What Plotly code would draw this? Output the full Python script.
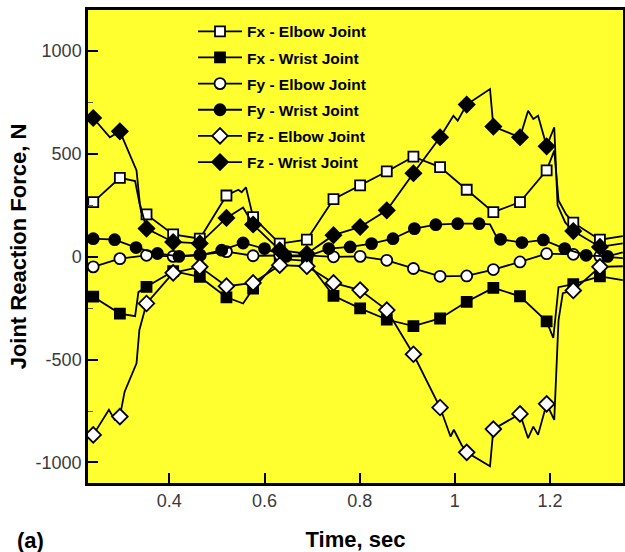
import plotly.graph_objects as go

# ---------------- data ----------------
# marker times for the 26.7-px-spaced series
t_mark = [0.240, 0.296, 0.352, 0.408, 0.464, 0.520, 0.576, 0.632, 0.689, 0.745,
          0.801, 0.857, 0.913, 0.969, 1.025, 1.081, 1.137, 1.193, 1.249, 1.305]
# marker times for Fy - Wrist Joint
t_mark_fyw = [0.240, 0.285, 0.330, 0.375, 0.420, 0.465, 0.510, 0.555, 0.600, 0.645,
              0.690, 0.735, 0.780, 0.825, 0.870, 0.915, 0.960, 1.006, 1.051, 1.096,
              1.141, 1.186, 1.231, 1.276, 1.321]

fx_elbow = [266, 384, 206, 109, 88, 298, 193, 64, 83, 280,
            347, 415, 487, 436, 326, 217, 266, 420, 166, 83]
fx_wrist = [-194, -276, -146, -70, -98, -197, -155, -10, -20, -190,
            -251, -305, -337, -300, -219, -151, -192, -314, -133, -95]
fy_elbow = [-49, -9, 7, 2, 10, 25, 5, 7, 7, 0,
            2, -17, -57, -95, -93, -62, -25, 15, 12, 2]
fy_wrist = [88, 83, 45, 16, 2, 7, 32, 67, 40, 2,
            2, 40, 48, 64, 88, 137, 156, 161, 161, 85,
            69, 82, 40, 7, 2]
fz_elbow = [-866, -777, -227, -78, -49, -143, -127, -41, -46, -127,
            -162, -259, -474, -733, -951, -838, -764, -715, -164, -49]
fz_wrist = [675, 610, 137, 72, 65, 189, 157, 32, 15, 105,
            145, 226, 406, 581, 740, 633, 581, 537, 125, 48]

# intermediate (unmarked) samples of each curve
fx_elbow_ex_t = [0.328, 0.341, 0.545, 0.552, 0.561, 1.209, 1.218, 1.234, 1.353]
fx_elbow_ex_v = [368, 216, 326, 314, 338, 516, 274, 206, 100]
fx_wrist_ex_t = [0.328, 0.335, 0.555, 1.207, 1.218, 1.353]
fx_wrist_ex_v = [-289, -172, -227, -395, -148, -114]
fy_elbow_ex_t = [1.353]
fy_elbow_ex_v = [-7]
fy_wrist_ex_t = [1.074, 1.087, 1.353]
fy_wrist_ex_v = [158, 99, 22]
fz_elbow_ex_t = [0.273, 0.285, 0.306, 0.331, 0.337, 0.991, 0.998, 1.014, 1.074,
                 1.116, 1.154, 1.165, 1.175, 1.209, 1.218, 1.227, 1.353]
fz_elbow_ex_v = [-744, -793, -656, -518, -356, -874, -841, -914, -1019,
                 -793, -882, -826, -866, -793, -308, -177, -46]
fz_wrist_ex_t = [0.275, 0.310, 0.321, 0.331, 0.338, 0.555, 0.997, 1.006, 1.074,
                 1.154, 1.165, 1.175, 1.209, 1.216, 1.232, 1.353]
fz_wrist_ex_v = [581, 532, 468, 420, 258, 240, 686, 662, 816,
                 710, 670, 686, 630, 250, 167, 65]

series_names = ["Fx - Elbow Joint", "Fx - Wrist Joint", "Fy - Elbow Joint",
                "Fy - Wrist Joint", "Fz - Elbow Joint", "Fz - Wrist Joint"]

y_tick_vals = [-1000, -500, 0, 500, 1000]
y_tick_text = ["-1000", "-500", "0", "500", "1000"]
x_tick_vals = [0.4, 0.6, 0.8, 1.0, 1.2]
x_tick_text = ["0.4", "0.6", "0.8", "1", "1.2"]

# ---------------- figure ----------------
def merge(tm, vm, tx, vx):
    pts = [(t, v, True) for t, v in zip(tm, vm)] + [(t, v, False) for t, v in zip(tx, vx)]
    pts.sort(key=lambda p: p[0])
    return [p[0] for p in pts], [p[1] for p in pts], [p[2] for p in pts]

styles = [
    ("square", "white", 10),
    ("square", "black", 10),
    ("circle", "white", 11),
    ("circle", "black", 11),
    ("diamond", "white", 12),
    ("diamond", "black", 12),
]
data = [
    (t_mark, fx_elbow, fx_elbow_ex_t, fx_elbow_ex_v),
    (t_mark, fx_wrist, fx_wrist_ex_t, fx_wrist_ex_v),
    (t_mark, fy_elbow, fy_elbow_ex_t, fy_elbow_ex_v),
    (t_mark_fyw, fy_wrist, fy_wrist_ex_t, fy_wrist_ex_v),
    (t_mark, fz_elbow, fz_elbow_ex_t, fz_elbow_ex_v),
    (t_mark, fz_wrist, fz_wrist_ex_t, fz_wrist_ex_v),
]

fig = go.Figure()
for name, (tm, vm, tx, vx), (sym, fill, ms) in zip(series_names, data, styles):
    x, y, ism = merge(tm, vm, tx, vx)
    marked = [i for i, m in enumerate(ism) if m]
    fig.add_trace(go.Scatter(
        x=x, y=y, mode="lines+markers", name=name, legendgroup=name,
        line=dict(color="black", width=1.8),
        marker=dict(symbol=sym, size=ms, color=fill, opacity=1,
                    line=dict(color="black", width=1.8)),
        selectedpoints=marked,
        selected=dict(marker=dict(opacity=1)),
        unselected=dict(marker=dict(opacity=0)),
    ))

axis_font = dict(family="Liberation Sans, Arial, sans-serif", size=18, color="#3a3a3a")
title_font = dict(family="Liberation Sans, Arial, sans-serif", size=22, color="black")

fig.update_layout(
    width=625, height=552,
    margin=dict(l=88, r=2, t=10, b=69),
    paper_bgcolor="white",
    plot_bgcolor="#FFFF30",
    showlegend=True,
    legend=dict(
        x=(193 - 88) / 535, y=0.99, xanchor="left", yanchor="top",
        bgcolor="rgba(0,0,0,0)", borderwidth=0,
        font=dict(family="Liberation Sans, Arial, sans-serif", size=15.5, color="black",
                  weight="bold"),
        tracegroupgap=3, itemsizing="trace", itemwidth=44,
    ),
    xaxis=dict(
        range=[0.229, 1.3535], tickvals=x_tick_vals, ticktext=x_tick_text,
        ticks="inside", ticklen=10, tickwidth=2, tickcolor="black",
        showline=True, linecolor="black", linewidth=2.5, mirror=True,
        showgrid=False, zeroline=False, tickfont=axis_font,
        title=dict(text="<b>Time, sec</b>", font=title_font, standoff=22),
        automargin=False,
    ),
    yaxis=dict(
        range=[-1100, 1200], tickvals=y_tick_vals, ticktext=y_tick_text,
        ticks="inside", ticklen=10, tickwidth=2, tickcolor="black",
        minor=dict(dtick=250, tick0=0, ticks="inside", ticklen=5, tickwidth=1,
                   tickcolor="#555555"),
        showline=True, linecolor="black", linewidth=2.5, mirror=True,
        showgrid=False, zeroline=False, tickfont=axis_font,
        title=dict(text="<b>Joint Reaction Force, N</b>", font=title_font, standoff=3),
        automargin=False,
    ),
    annotations=[dict(
        text="<b>(a)</b>", xref="paper", yref="paper",
        x=(30 - 88) / 535, y=-(540 - 483) / 473,
        xanchor="center", yanchor="middle", showarrow=False,
        font=dict(family="Liberation Sans, Arial, sans-serif", size=22, color="black"),
    )],
)

fig.write_html("out.html")
